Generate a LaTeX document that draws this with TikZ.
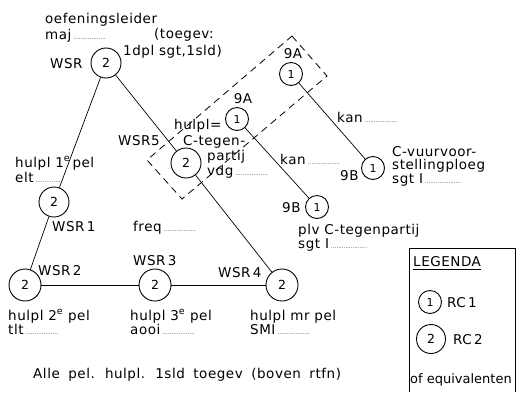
\documentclass[tikz,border=0pt]{standalone}
\usepackage{fontspec}
\setmainfont[LetterSpace=4]{DejaVu Sans}
\newcommand\lead[1]{{\fontsize{5}{5}\selectfont #1}}
\newcommand\widesp{\spaceskip=8.5pt\relax}
\begin{document}
\begin{tikzpicture}[x=1pt,y=-1pt,
  lbl/.style={anchor=base west,inner sep=0pt,font=\fontsize{13.5}{15}\selectfont},
  big/.style={circle,draw,line width=0.9pt,minimum size=30pt,inner sep=0pt,font=\fontsize{12.5}{14}\selectfont},
  small/.style={circle,draw,line width=0.9pt,minimum size=23pt,inner sep=0pt,font=\fontsize{11}{13}\selectfont},
  conn/.style={line width=0.7pt},
  dashbox/.style={line width=0.8pt,dash pattern=on 7pt off 5pt}]
\useasboundingbox (0,0) rectangle (516,392);
% nodes
\node[big] (top) at (106,63) {2};
\node[big] (w1) at (54,202) {2};
\node[big,minimum size=32pt] (w2) at (25,285) {2};
\node[big,minimum size=32pt] (w3) at (155,285) {2};
\node[big,minimum size=32pt] (w4) at (282,285) {2};
\node[big] (w5) at (186,163) {2};
\node[small] (a1) at (237,119) {1};
\node[small] (a2) at (291,74) {1};
\node[small] (b1) at (317,207) {1};
\node[small] (b2) at (373,168) {1};
% connectors
\draw[conn] (top) -- (w1);
\draw[conn] (w1) -- (w2);
\draw[conn] (top) -- (w5);
\draw[conn] (w5) -- (w4);
\draw[conn] (w2) -- (w3);
\draw[conn] (w3) -- (w4);
\draw[conn] (a1) -- (b1);
\draw[conn] (a2) -- (b2);
% dashed group
\coordinate (d1) at (292,36);
\coordinate (d2) at (327,76);
\coordinate (d3) at (182,199);
\coordinate (d4) at (147,160);
\draw[dashbox] (d1) -- (d2) -- (d3) -- (d4) -- cycle;
% labels
\node[lbl] (t1) at (45,23) {oefeningsleider};
\node[lbl] (t2) at (45,39) {maj\,\lead{..................}};
\node[lbl] (t3) at (154,38) {(toegev:};
\node[lbl] (t4) at (123,55) {1dpl sgt,1sld)};
\node[lbl] (t5) at (50,68) {WSR};
\node[lbl] (t6) at (15,167) {hulpl 1\textsuperscript{e}\,pel};
\node[lbl] (t7) at (15,182) {elt\,\lead{..............}};
\node[lbl] (t8) at (52,231) {WSR\,1};
\node[lbl] (t9) at (133,231) {freq\,\lead{..................}};
\node[lbl] (t10) at (118,145) {WSR5};
\node[lbl] (t11) at (174,129) {hulpl=};
\node[lbl] (t12) at (183,145) {C-tegen-};
\node[lbl] (t13) at (207,160) {partij};
\node[lbl] (t14) at (207,175) {vdg\,\lead{..................}};
\node[lbl,anchor=base] (t15) at (243,103) {9A};
\node[lbl,anchor=base] (t16) at (293,58) {9A};
\node[lbl] (t17) at (337,122) {kan\,\lead{..................}};
\node[lbl] (t18) at (280,164) {kan\,\lead{..................}};
\node[lbl] (t19) at (392,156) {C-vuurvoor-};
\node[lbl] (t20) at (392,169) {stellingploeg};
\node[lbl] (t21) at (392,183) {sgt I\,\lead{....................}};
\node[lbl] (t22) at (340,180) {9B};
\node[lbl] (t23) at (282,212) {9B};
\node[lbl] (t24) at (298,234) {plv C-tegenpartij};
\node[lbl] (t25) at (298,248) {sgt I\,\lead{....................}};
\node[lbl] (t26) at (38,275) {WSR\,2};
\node[lbl] (t27) at (133,265) {WSR\,3};
\node[lbl] (t28) at (218,277) {WSR\,4};
\node[lbl] (t29) at (8,320) {hulpl 2\textsuperscript{e} pel};
\node[lbl] (t30) at (8,334) {tlt\,\lead{..................}};
\node[lbl] (t31) at (130,320) {hulpl 3\textsuperscript{e} pel};
\node[lbl] (t32) at (130,334) {aooi\,\lead{..................}};
\node[lbl] (t33) at (250,320) {hulpl mr pel};
\node[lbl] (t34) at (250,334) {SMI\,\lead{..................}};
\node[lbl] (t35) at (33,378) {\widesp Alle pel. hulpl. 1sld toegev (boven rtfn)};
% legend
\draw[line width=0.8pt] (409,392) -- (409,248) -- (515,248) -- (515,392);
\node[lbl] (lg) at (413,266) {LEGENDA};
\draw[line width=0.7pt] ([yshift=-2.5pt]lg.south west) -- ([yshift=-2.5pt]lg.south east);
\node[small] (l1) at (430,302) {1};
\node[lbl] (l1t) at (447,307) {RC\,1};
\node[big,minimum size=29pt] (l2) at (431,339) {2};
\node[lbl] (l2t) at (453,344) {RC\,2};
\node[lbl,font=\fontsize{13}{15}\selectfont\addfontfeature{LetterSpace=0}] (l3) at (410,383) {of equivalenten};
\end{tikzpicture}
\end{document}
